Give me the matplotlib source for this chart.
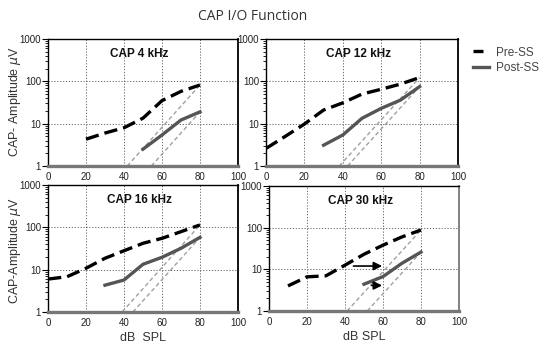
import matplotlib
matplotlib.use("Agg")
import matplotlib.pyplot as plt
import numpy as np

# ---- data ----
panel_titles = ["CAP 4 kHz", "CAP 12 kHz", "CAP 16 kHz", "CAP 30 kHz"]

pre_x_4k = [20, 30, 40, 50, 60, 70, 80]
pre_y_4k = [4.3, 6.0, 8.0, 13.5, 35, 58, 82]
post_x_4k = [50, 60, 70, 80]
post_y_4k = [2.5, 5.4, 12.2, 19]

pre_x_12k = [0, 10, 20, 30, 40, 50, 60, 70, 80]
pre_y_12k = [2.6, 5.0, 9.8, 21, 31, 50, 65, 86, 123]
post_x_12k = [30, 40, 50, 60, 70, 80]
post_y_12k = [3.1, 5.4, 13.4, 23, 36, 75]

pre_x_16k = [0, 10, 20, 30, 40, 50, 60, 70, 80]
pre_y_16k = [6.0, 6.8, 10.8, 18.6, 28, 42, 55, 79, 114]
post_x_16k = [30, 40, 50, 60, 70, 80]
post_y_16k = [4.3, 5.7, 13.4, 19.6, 32, 58]

pre_x_30k = [10, 20, 30, 40, 50, 60, 70, 80]
pre_y_30k = [4.0, 6.6, 7.0, 12.6, 23, 38, 60, 88]
post_x_30k = [50, 60, 70, 80]
post_y_30k = [4.4, 6.7, 14, 26]

# gray guide lines: (x at amplitude 1, x end, amplitude at end)
guides_4k = [(41.7, 80, 82), (54.4, 80, 19)]
guides_12k = [(38.2, 80, 123), (42.5, 80, 75)]
guides_16k = [(39.0, 80, 114), (44.7, 80, 58)]
guides_30k = [(41.1, 80, 88), (51.7, 80, 26)]

# arrows in 30 kHz panel: (x start, x end, amplitude)
arrows_30k = [(43, 61, 12), (52.5, 61, 4.1)]

x_ticks = [0, 20, 40, 60, 80, 100]
y_ticks = [1, 10, 100, 1000]
y_ticklabels = ["1", "10", "100", "1000"]

# ---- figure ----
W, H = 555, 350
fig = plt.figure(figsize=(W / 100, H / 100), dpi=100)


def px_axes(x0, y0, x1, y1):
    return fig.add_axes([x0 / W, 1 - y1 / H, (x1 - x0) / W, (y1 - y0) / H])


panels = [
    (px_axes(48, 39, 238, 166), pre_x_4k, pre_y_4k, post_x_4k, post_y_4k, guides_4k, None, "black"),
    (px_axes(266, 39, 458, 166), pre_x_12k, pre_y_12k, post_x_12k, post_y_12k, guides_12k, None, "black"),
    (px_axes(48, 185, 238, 312), pre_x_16k, pre_y_16k, post_x_16k, post_y_16k, guides_16k, "dB  SPL", "black"),
    (px_axes(269, 186, 459, 311), pre_x_30k, pre_y_30k, post_x_30k, post_y_30k, guides_30k, "dB SPL", "#777777"),
]

tick_font = dict(family="Liberation Sans", size=7)
for i, (ax, px_, py_, qx, qy, guides, xlab, rcol) in enumerate(panels):
    ax.set_yscale("log")
    ax.set_xlim(0, 100)
    ax.set_ylim(1, 1000)
    for g in guides:
        ax.plot([g[0], g[1]], [1, g[2]], color="#a0a0a0", lw=1.0, ls=(0, (3, 2)), zorder=2)
    ax.plot(px_, py_, color="black", lw=2.4, ls=(0, (4, 1.8)), zorder=4)
    ax.plot(qx, qy, color="#555555", lw=2.4, zorder=3)
    ax.set_xticks(x_ticks)
    ax.set_xticklabels([str(t) for t in x_ticks], **tick_font, color="#222222")
    ax.set_yticks(y_ticks)
    ax.set_yticklabels(y_ticklabels, **tick_font, color="#222222")
    ax.yaxis.set_minor_locator(matplotlib.ticker.LogLocator(base=10, subs=np.arange(2, 10)))
    ax.yaxis.set_minor_formatter(matplotlib.ticker.NullFormatter())
    ax.tick_params(axis="y", which="major", length=4, width=0.8, pad=1)
    ax.tick_params(axis="y", which="minor", length=2, width=0.6)
    ax.tick_params(axis="x", which="major", length=0, pad=4)
    ax.grid(True, which="major", color="#555555", lw=0.6, ls=(0, (1.5, 2)))
    ax.set_axisbelow(True)
    for s in ("left", "top"):
        ax.spines[s].set_linewidth(1.0)
        ax.spines[s].set_color("black")
    ax.spines["right"].set_linewidth(1.3)
    ax.spines["right"].set_color(rcol)
    ax.spines["bottom"].set_linewidth(2.4)
    ax.spines["bottom"].set_color("#777777")
    ax.text(0.48, 0.93, panel_titles[i], transform=ax.transAxes, ha="center", va="top",
            family="Liberation Sans", fontweight="bold", fontsize=8.5, color="#111111")
    if xlab:
        ax.set_xlabel(xlab, family="Liberation Sans", fontsize=9, color="#333333", labelpad=3)

fig.text(15 / W, 1 - 102 / H, "CAP- Amplitude $\\mu$V", rotation=90, ha="center", va="center",
         family="Liberation Sans", fontsize=9, color="#333333")
fig.text(15 / W, 1 - 250 / H, "CAP-Amplitude $\\mu$V", rotation=90, ha="center", va="center",
         family="Liberation Sans", fontsize=9, color="#333333")

ax30 = panels[3][0]
for a in arrows_30k:
    ax30.annotate("", xy=(a[1], a[2]), xytext=(a[0], a[2]),
                  arrowprops=dict(arrowstyle="-|>,head_length=0.5,head_width=0.25", color="black", lw=1.2),
                  zorder=6)

fig.text(253 / W, 1 - 16 / H, "CAP I/O Function", ha="center", va="center",
         family="Open Sans", fontsize=10, color="#333333")

# legend
from matplotlib.lines import Line2D
handles = [Line2D([], [], color="black", lw=2.4, ls=(0, (3, 2.5, 1, 2.5))),
           Line2D([], [], color="#555555", lw=2.4)]
fig.legend(handles, ["Pre-SS", "Post-SS"], loc="upper left", bbox_to_anchor=(462 / W, 1 - 36 / H),
           frameon=False, handlelength=1.4, handletextpad=0.6, labelspacing=0.3,
           prop=dict(family="Liberation Sans", size=8.5), labelcolor="#444444")

fig.savefig("out.png", dpi=100)
